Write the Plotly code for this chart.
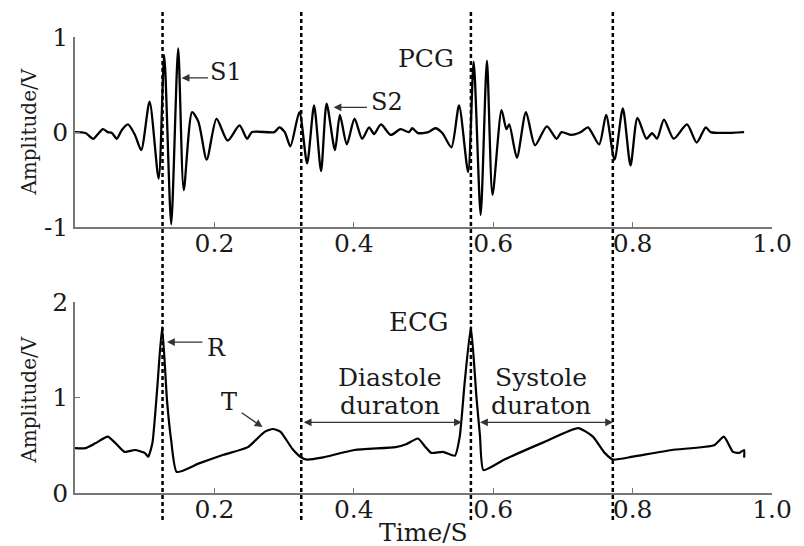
import plotly.graph_objects as go

# ---- PCG (top) ----
pcg_t = [0.000, 0.015, 0.026, 0.033, 0.040, 0.047, 0.053, 0.060, 0.067, 0.076,
         0.086, 0.095, 0.107, 0.120, 0.128, 0.138, 0.148, 0.156, 0.168, 0.177,
         0.189, 0.203, 0.219, 0.236, 0.247, 0.254, 0.286, 0.293, 0.301, 0.309,
         0.322, 0.333, 0.343, 0.353, 0.361, 0.373, 0.380, 0.390, 0.401, 0.412,
         0.422, 0.429, 0.439, 0.453, 0.467, 0.479, 0.484, 0.492, 0.507, 0.517,
         0.527, 0.540, 0.551, 0.564, 0.572, 0.582, 0.591, 0.599, 0.612, 0.619,
         0.623, 0.634, 0.647, 0.660, 0.677, 0.691, 0.698, 0.712, 0.726, 0.736,
         0.752, 0.762, 0.774, 0.786, 0.797, 0.807, 0.820, 0.828, 0.835, 0.845,
         0.859, 0.878, 0.892, 0.905, 0.912, 0.960]
pcg_v = [0.00, -0.01, -0.07, -0.02, 0.03, 0.00, -0.01, -0.07, 0.02, 0.08,
         -0.03, -0.19, 0.32, -0.49, 0.81, -0.97, 0.88, -0.61, 0.21, 0.11,
         -0.29, 0.14, -0.09, 0.07, -0.07, 0.00, 0.00, 0.05, 0.00, -0.15,
         0.21, -0.33, 0.28, -0.41, 0.30, -0.19, 0.18, -0.13, 0.14, -0.07,
         0.05, -0.02, 0.08, -0.03, 0.03, 0.00, 0.04, -0.01, 0.00, 0.04,
         -0.01, -0.16, 0.28, -0.42, 0.74, -0.87, 0.75, -0.66, 0.23, 0.03,
         0.08, -0.27, 0.21, -0.14, 0.06, -0.07, 0.00, -0.03, 0.00, 0.05,
         -0.13, 0.18, -0.29, 0.25, -0.35, 0.15, -0.07, -0.01, -0.07, 0.13,
         -0.07, 0.08, -0.11, 0.05, 0.00, 0.00]

# ---- ECG (bottom) ----
ecg_t = [0.000, 0.015, 0.029, 0.047, 0.057, 0.071, 0.086, 0.100, 0.105, 0.111,
         0.118, 0.125, 0.132, 0.138, 0.146, 0.178, 0.213, 0.248, 0.272, 0.284,
         0.295, 0.312, 0.325, 0.333, 0.354, 0.401, 0.460, 0.475, 0.492, 0.503,
         0.511, 0.528, 0.545, 0.552, 0.559, 0.568, 0.576, 0.581, 0.586, 0.616,
         0.672, 0.722, 0.743, 0.760, 0.772, 0.800, 0.856, 0.917, 0.931, 0.944,
         0.953, 0.960, 0.960]
ecg_v = [0.47, 0.47, 0.52, 0.59, 0.53, 0.43, 0.45, 0.42, 0.38, 0.52,
         1.10, 1.74, 0.97, 0.55, 0.22, 0.31, 0.40, 0.48, 0.64, 0.67,
         0.64, 0.46, 0.37, 0.35, 0.37, 0.45, 0.48, 0.51, 0.57, 0.48,
         0.42, 0.43, 0.39, 0.59, 1.15, 1.74, 1.00, 0.60, 0.24, 0.35,
         0.53, 0.68, 0.59, 0.42, 0.35, 0.38, 0.45, 0.50, 0.59, 0.43,
         0.42, 0.45, 0.37]

x_ticks = [0.2, 0.4, 0.6, 0.8, 1.0]
x_ticktext = ["0.2", "0.4", "0.6", "0.8", "1.0"]
pcg_yticks = [-1, 0, 1]
ecg_yticks = [0, 1, 2]
marker_times = [0.1256, 0.3246, 0.568, 0.7716]

FONT = "DejaVu Serif"
TXT = "#1a1a1a"
fig = go.Figure()
fig.add_trace(go.Scatter(x=pcg_t, y=pcg_v, mode="lines", xaxis="x", yaxis="y",
                         line=dict(color="black", width=2.3, shape="spline", smoothing=0.7),
                         showlegend=False, hoverinfo="skip"))
fig.add_trace(go.Scatter(x=ecg_t, y=ecg_v, mode="lines", xaxis="x2", yaxis="y2",
                         line=dict(color="black", width=2.2, shape="spline", smoothing=0.5),
                         showlegend=False, hoverinfo="skip"))

axis_common = dict(showgrid=False, zeroline=False, showline=True, linecolor="#777",
                   linewidth=1.5, ticks="inside", ticklen=5, tickcolor="#777",
                   tickfont=dict(family=FONT, size=25, color=TXT))

fig.update_layout(
    width=804, height=546, plot_bgcolor="white", paper_bgcolor="white",
    margin=dict(l=75, r=23, t=37, b=53),
    xaxis=dict(domain=[0, 1], anchor="y", range=[0, 1.0], tickvals=x_ticks,
               ticktext=x_ticktext, ticklabelstandoff=-7, **axis_common),
    yaxis=dict(domain=[0.583, 1], anchor="x", range=[-1, 1], tickvals=pcg_yticks,
               ticktext=[str(v) for v in pcg_yticks], ticklabelstandoff=0, **axis_common),
    xaxis2=dict(domain=[0, 1], anchor="y2", range=[0, 1.0], tickvals=x_ticks,
                ticktext=x_ticktext, ticklabelstandoff=-7, **axis_common),
    yaxis2=dict(domain=[0, 0.419], anchor="x2", range=[0, 2], tickvals=ecg_yticks,
                ticktext=[str(v) for v in ecg_yticks], ticklabelstandoff=0, **axis_common),
)

for t in marker_times:
    fig.add_shape(type="line", xref="x", yref="paper", x0=t, x1=t, y0=-0.059, y1=1.055,
                  line=dict(color="black", width=2.5, dash="4px,3px"))

def txt(x, y, s, xr, yr, size=24):
    fig.add_annotation(x=x, y=y, xref=xr, yref=yr, text=s, showarrow=False,
                       xanchor="center", yanchor="middle",
                       font=dict(family=FONT, size=size, color=TXT))

def arrow(x, y, ax, ay, xr, yr, side="end"):
    fig.add_annotation(x=x, y=y, ax=ax, ay=ay, xref=xr, yref=yr, axref=xr, ayref=yr,
                       text="", showarrow=True, arrowhead=2, arrowsize=1.2,
                       arrowwidth=1.3, arrowcolor="#333", arrowside=side,
                       startarrowhead=2, startarrowsize=1.2)

# top annotations
txt(0.217, 0.63, "S1", "x", "y", 24)
arrow(0.153, 0.57, 0.193, 0.57, "x", "y")
txt(0.448, 0.32, "S2", "x", "y", 24)
arrow(0.371, 0.26, 0.421, 0.26, "x", "y")
txt(0.503, 0.77, "PCG", "x", "y", 25)

# bottom annotations
txt(0.203, 1.52, "R", "x2", "y2", 24)
arrow(0.132, 1.58, 0.185, 1.58, "x2", "y2")
txt(0.221, 0.95, "T", "x2", "y2", 24)
arrow(0.269, 0.69, 0.237, 0.85, "x2", "y2")
txt(0.494, 1.79, "ECG", "x2", "y2", 26)
txt(0.452, 1.21, "Diastole", "x2", "y2", 25)
txt(0.452, 0.92, "duraton", "x2", "y2", 25)
txt(0.668, 1.21, "Systole", "x2", "y2", 25)
txt(0.668, 0.92, "duraton", "x2", "y2", 25)
arrow(0.555, 0.74, 0.326, 0.74, "x2", "y2", side="end+start")
arrow(0.772, 0.74, 0.579, 0.74, "x2", "y2", side="end+start")

# axis titles
for yc in [(493 - 132) / 456, (493 - 400) / 456]:
    fig.add_annotation(x=-47 / 706, y=yc, xref="paper", yref="paper", text="Amplitude/V",
                       textangle=-90, showarrow=False, xanchor="center", yanchor="middle",
                       font=dict(family=FONT, size=20, color=TXT))
fig.add_annotation(x=0.5, y=-(532 - 493) / 456, xref="paper", yref="paper", text="Time/S",
                   showarrow=False, xanchor="center", yanchor="middle",
                   font=dict(family=FONT, size=25, color=TXT))

fig.write_html("out.html", config={"displayModeBar": False},
               post_script="document.body.style.margin='0';document.body.style.overflow='hidden';")
